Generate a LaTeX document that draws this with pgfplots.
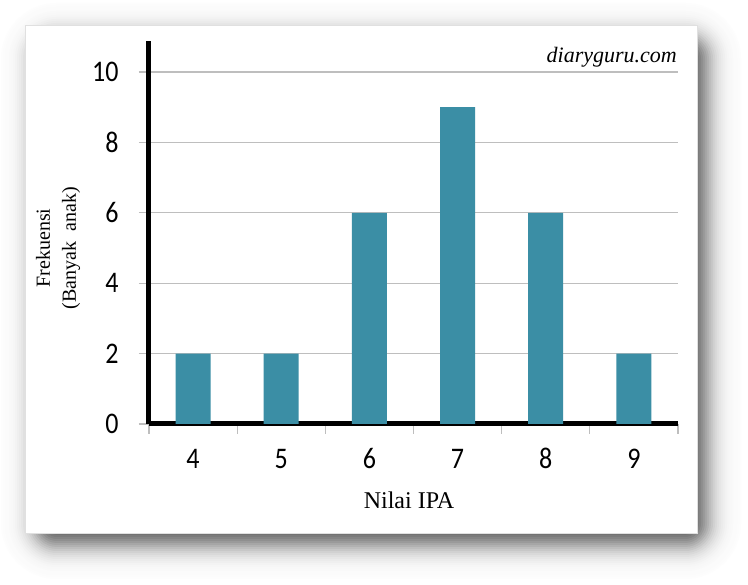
\documentclass[border=0pt]{standalone}
\usepackage{pgfplots}
\pgfplotsset{compat=1.18}
\usepackage{fontspec}
\setmainfont{Liberation Serif}
\newfontfamily\calibri{Carlito}
\definecolor{barcol}{RGB}{59,142,165}
\definecolor{gridcol}{RGB}{190,190,190}
\begin{document}
\begin{tikzpicture}[x=1pt,y=1pt]
\fill[white] (0,0) rectangle (748,585);
% blurred shadow, layered opaque fills
\foreach \e in {34,32,...,-20} {
  \pgfmathsetmacro\d{70/(1+exp(1.702*\e/13))}
  \pgfmathsetmacro\r{max(\e+22,1)}
  \fill[black!\d, rounded corners=\r pt] (35-\e,40-\e) rectangle (707+\e,548+\e);
}
\fill[white, draw=black!12, line width=0.6pt] (25,52) rectangle (697,560);
\begin{axis}[
  at={(149pt,161pt)}, anchor=south west,
  scale only axis, width=529pt, height=383pt,
  xmin=3.5, xmax=9.5, ymin=0, ymax=10.88,
  axis x line*=bottom, axis y line*=left,
  axis line style={line width=5pt, black},
  xtick={3.5,4.5,...,9.5},
  xticklabels={4,5,6,7,8,9,{}},
  xticklabel style={anchor=base, xshift=44.08pt, yshift=-30pt},
  ytick={0,2,...,10},
  yticklabel style={xshift=-17pt},
  ymajorgrids,
  grid style={line width=1.3pt, gridcol},
  tick align=outside,
  major tick length=10pt,
  tick style={line width=1.3pt, gridcol},
  ticklabel style={font=\calibri\fontsize{26}{26}\selectfont, yscale=1.15},
  /pgf/number format/assume math mode=true,
]
\addplot[ybar, bar width=35pt, bar shift=0pt, fill=barcol, draw=none]
  coordinates {(4,2) (5,2) (6,6) (7,9) (8,6) (9,2)};
\end{axis}
\node[rotate=90, align=center, font=\fontsize{20}{26}\selectfont] at (58,337) {Frekuensi\\(Banyak\ \ anak)};
\node[anchor=base east, font=\itshape\fontsize{22}{22}\selectfont, inner sep=0pt] at (677,522) {diaryguru.com};
\node[font=\fontsize{24}{24}\selectfont] at (409,85) {Nilai IPA};
\end{tikzpicture}
\end{document}
